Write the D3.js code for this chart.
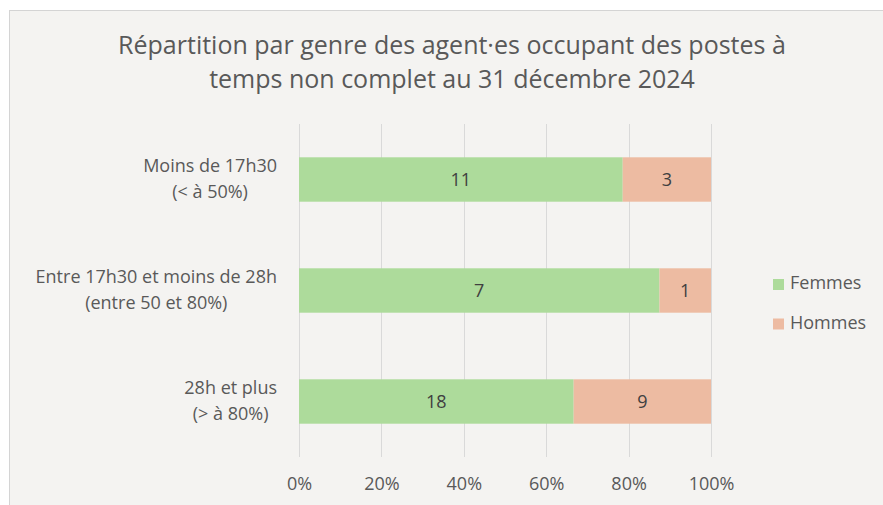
<!DOCTYPE html>
<html>
<head>
<meta charset="utf-8">
<script src="https://cdn.jsdelivr.net/npm/d3@7"></script>
<style>
  html, body { margin: 0; padding: 0; background: #fff; }
  svg { display: block; font-family: "Open Sans", sans-serif; }
</style>
</head>
<body>
<div id="chart"></div>
<script>
// values
const categories = [
  ['Moins de 17h30', '(< à 50%)'],
  ['Entre 17h30 et moins de 28h', '(entre 50 et 80%)'],
  ['28h et plus', '(> à 80%)']
]
const series = ['Femmes', 'Hommes']
const femmes = [11, 7, 18]
const hommes = [3, 1, 9]
const xTicks = [0, 0.2, 0.4, 0.6, 0.8, 1]
const titleLines = [
  'Répartition par genre des agent·es occupant des postes à',
  'temps non complet au 31 décembre 2024'
]
const colors = ['#addb9b', '#edbba2']

const W = 883, H = 505
const margin = {top: 124, left: 299, right: 172, bottom: 48}
const width = W - margin.left - margin.right
const height = H - margin.top - margin.bottom

const rows = categories.map((c, i) => ({key: i, label: c, Femmes: femmes[i], Hommes: hommes[i]}))

const stacked = d3.stack().keys(series)
  .offset(d3.stackOffsetExpand)(rows)

const x = d3.scaleLinear().domain([0, 1]).range([0, width])
const y = d3.scaleBand().domain(rows.map(r => r.key)).range([0, height]).paddingInner(0.6).paddingOuter(0.3)
const color = d3.scaleOrdinal().domain(series).range(colors)

const svg = d3.select('#chart').append('svg')
  .attr('width', W).attr('height', H)

// chart area frame
svg.append('rect')
  .attr('x', 9.5).attr('y', 10.5)
  .attr('width', W + 10).attr('height', H + 10)
  .attr('fill', '#f4f3f1')
  .attr('stroke', '#d4d4d4')

svg.append('g')
  .selectAll('text')
  .data(titleLines)
  .enter().append('text')
  .attr('x', 452)
  .attr('y', (d, i) => 54 + i * 34)
  .attr('text-anchor', 'middle')
  .attr('fill', '#595959')
  .style('font-size', '25px')
  .text(d => d)

const main = svg.append('g')
  .attr('transform', 'translate(' + margin.left + ',' + margin.top + ')')

// gridlines
main.append('g')
  .selectAll('line')
  .data(xTicks)
  .enter().append('line')
  .attr('x1', d => Math.round(x(d)) + 0.5)
  .attr('x2', d => Math.round(x(d)) + 0.5)
  .attr('y1', 0).attr('y2', height)
  .attr('stroke', '#d9d9d9')

const xAxis = d3.axisBottom(x)
  .tickValues(xTicks)
  .tickFormat(d3.format('.0%'))
  .tickSize(0)
  .tickPadding(20)

main.append('g')
  .attr('transform', 'translate(0,' + height + ')')
  .call(xAxis)
  .call(g => g.select('.domain').remove())
  .selectAll('text')
  .attr('fill', '#595959')
  .style('font-size', '18px')
  .style('font-family', '"Open Sans", sans-serif')

// bars
const layer = main.append('g')
  .selectAll('g')
  .data(stacked)
  .enter().append('g')
  .attr('fill', d => color(d.key))

layer.selectAll('rect')
  .data(d => d)
  .enter().append('rect')
  .attr('x', d => x(d[0]))
  .attr('y', d => y(d.data.key))
  .attr('width', d => x(d[1]) - x(d[0]))
  .attr('height', y.bandwidth())

layer.selectAll('text')
  .data(d => d.map(s => ({s, key: d.key})))
  .enter().append('text')
  .attr('x', d => (x(d.s[0]) + x(d.s[1])) / 2)
  .attr('y', d => y(d.s.data.key) + y.bandwidth() / 2)
  .attr('dy', '0.36em')
  .attr('text-anchor', 'middle')
  .attr('fill', '#404040')
  .style('font-size', '18px')
  .text(d => d.s.data[d.key])

// category labels: each block centred on its longest line, right edge fixed
const yLab = main.append('g')
  .selectAll('text')
  .data(rows)
  .enter().append('text')
  .attr('y', d => y(d.key) + y.bandwidth() / 2)
  .attr('text-anchor', 'middle')
  .attr('fill', '#595959')
  .style('font-size', '18px')

yLab.selectAll('tspan')
  .data(d => d.label)
  .enter().append('tspan')
  .attr('dy', (d, i) => i === 0 ? -7.5 : 26)
  .text(d => d)

yLab.each(function () {
  const spans = d3.select(this).selectAll('tspan')
  const w = d3.max(spans.nodes(), n => n.getComputedTextLength())
  spans.attr('x', -22 - w / 2)
})

// legend
const legend = svg.append('g')
  .attr('transform', 'translate(773,279)')
  .selectAll('g')
  .data(series)
  .enter().append('g')
  .attr('transform', (d, i) => 'translate(0,' + i * 39.5 + ')')

legend.append('rect')
  .attr('width', 11).attr('height', 11)
  .attr('fill', d => color(d))

legend.append('text')
  .attr('x', 17).attr('y', 10)
  .attr('fill', '#595959')
  .style('font-size', '18px')
  .text(d => d)
</script>
</body>
</html>
